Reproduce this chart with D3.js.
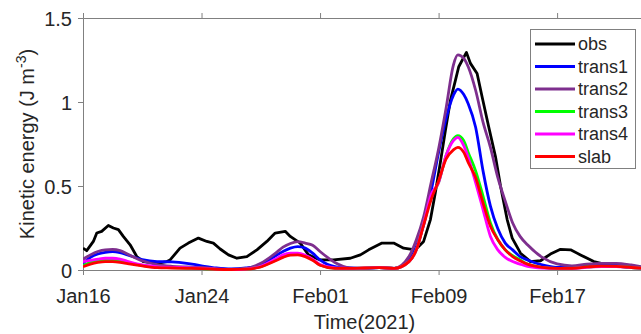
<!DOCTYPE html>
<html>
<head>
<meta charset="utf-8">
<script src="https://cdn.jsdelivr.net/npm/d3@7"></script>
<style>
  body { margin: 0; background: #fff; }
  svg { display: block; font-family: "Liberation Sans", Arial, sans-serif; }
</style>
</head>
<body>
<div id="chart"></div>
<script>
// day offsets from 2021-01-16
const obsDays = [0, 0.25, 0.7, 0.93, 1.26, 1.71, 2.05, 2.39, 2.72, 3.18, 3.63, 4.07, 4.98, 5.66, 5.88,
  6.55, 7.11, 7.79, 8.36, 8.8, 9.26, 9.82, 10.39, 11.06, 11.74, 12.41, 12.97, 13.65, 13.99, 14.66,
  15.22, 16.01, 16.91, 18.04, 18.72, 19.28, 20.18, 20.97, 21.64, 22.43, 22.99, 23.45, 23.78, 24.12,
  24.46, 24.8, 25.14, 25.36, 25.88, 26.15, 26.6, 26.94, 27.39, 27.84, 28.18, 28.63, 28.97, 29.53,
  30.2, 30.88, 31.55, 32.23, 32.91, 33.58, 34.48, 35.39, 36.74, 38];
const obs = [0.13, 0.115, 0.17, 0.22, 0.23, 0.265, 0.25, 0.24, 0.2, 0.15, 0.08, 0.05, 0.04, 0.05, 0.06,
  0.13, 0.16, 0.19, 0.17, 0.16, 0.125, 0.09, 0.07, 0.08, 0.12, 0.17, 0.22, 0.23, 0.2, 0.16,
  0.09, 0.06, 0.06, 0.07, 0.09, 0.12, 0.16, 0.16, 0.13, 0.12, 0.17, 0.3, 0.46, 0.64,
  0.83, 1.01, 1.13, 1.21, 1.295, 1.23, 1.17, 1.03, 0.85, 0.675, 0.5, 0.3, 0.19, 0.1,
  0.05, 0.055, 0.095, 0.123, 0.12, 0.09, 0.05, 0.03, 0.016, 0.01];

const modelDays = [0, 0.5, 1, 1.5, 2, 2.5, 3, 4, 5, 6, 7, 8, 9, 10, 11, 12, 13, 13.5, 14, 14.5, 15, 15.5,
  16, 17, 18, 19, 20, 21, 22, 22.5, 23, 23.5, 24, 24.5, 25, 25.3, 25.7, 26, 26.5, 27, 27.5, 28, 28.5,
  29, 29.5, 30, 31, 32, 33, 34, 35, 36, 37, 38];
const trans1 = [0.04, 0.075, 0.095, 0.105, 0.109, 0.103, 0.09, 0.062, 0.05, 0.048, 0.04, 0.025, 0.012, 0.006,
  0.012, 0.03, 0.085, 0.11, 0.13, 0.139, 0.13, 0.1, 0.06, 0.02, 0.012, 0.01, 0.014, 0.01, 0.06, 0.14,
  0.27, 0.47, 0.7, 0.9, 1.04, 1.077, 1.045, 0.99, 0.85, 0.59, 0.38, 0.245, 0.16, 0.12, 0.08, 0.06,
  0.03, 0.016, 0.018, 0.027, 0.03, 0.03, 0.022, 0.015];
const trans2 = [0.064, 0.09, 0.11, 0.12, 0.122, 0.115, 0.095, 0.055, 0.032, 0.022, 0.018, 0.015, 0.008, 0.004,
  0.008, 0.04, 0.1, 0.136, 0.158, 0.169, 0.16, 0.147, 0.11, 0.045, 0.013, 0.01, 0.016, 0.01, 0.08, 0.18,
  0.32, 0.52, 0.72, 0.96, 1.22, 1.28, 1.26, 1.21, 1.07, 0.88, 0.73, 0.55, 0.41, 0.28, 0.2, 0.15,
  0.075, 0.036, 0.025, 0.035, 0.04, 0.04, 0.03, 0.014];
const trans3 = [0.025, 0.045, 0.055, 0.06, 0.06, 0.055, 0.045, 0.028, 0.018, 0.015, 0.012, 0.008, 0.004, 0.003,
  0.006, 0.02, 0.06, 0.08, 0.093, 0.095, 0.085, 0.062, 0.03, 0.011, 0.01, 0.012, 0.014, 0.01, 0.05, 0.12,
  0.28, 0.44, 0.52, 0.68, 0.78, 0.8, 0.77, 0.7, 0.59, 0.44, 0.28, 0.18, 0.12, 0.085, 0.06, 0.035,
  0.016, 0.01, 0.01, 0.018, 0.022, 0.022, 0.015, 0.01];
const trans4 = [0.05, 0.058, 0.065, 0.07, 0.07, 0.065, 0.052, 0.03, 0.02, 0.016, 0.014, 0.01, 0.005, 0.003,
  0.006, 0.022, 0.065, 0.09, 0.1, 0.1, 0.088, 0.065, 0.032, 0.012, 0.01, 0.012, 0.014, 0.01, 0.05, 0.12,
  0.28, 0.45, 0.52, 0.68, 0.77, 0.79, 0.74, 0.67, 0.52, 0.36, 0.2, 0.12, 0.075, 0.05, 0.035, 0.022,
  0.012, 0.01, 0.01, 0.016, 0.02, 0.02, 0.014, 0.01];
const slab = [0.02, 0.035, 0.045, 0.05, 0.05, 0.046, 0.038, 0.024, 0.014, 0.012, 0.01, 0.008, 0.004, 0.003,
  0.005, 0.018, 0.055, 0.075, 0.088, 0.09, 0.08, 0.058, 0.028, 0.01, 0.01, 0.012, 0.014, 0.01, 0.05, 0.12,
  0.27, 0.42, 0.53, 0.66, 0.715, 0.73, 0.7, 0.64, 0.55, 0.4, 0.26, 0.18, 0.12, 0.08, 0.055, 0.035,
  0.016, 0.01, 0.01, 0.018, 0.023, 0.022, 0.015, 0.01];

const seriesNames = ['obs', 'trans1', 'trans2', 'trans3', 'trans4', 'slab'];
const seriesColors = ['#000000', '#0000ff', '#7e2f8e', '#00ff00', '#ff00ff', '#ff0000'];
const xTickDays = [0, 8, 16, 24, 32];
const yTicks = [0, 0.5, 1, 1.5];

const width = 641, height = 334;
const margin = { top: 18, right: -5, bottom: 64, left: 83 };
const start = new Date(Date.UTC(2021, 0, 16));
const toDate = (d) => new Date(start.getTime() + d * 86400000);

const svg = d3.select('#chart').append('svg')
  .attr('width', width).attr('height', height);

const x = d3.scaleUtc()
  .domain([toDate(0), toDate(38)])
  .range([margin.left, width - margin.right]);
const y = d3.scaleLinear()
  .domain([0, 1.5])
  .range([height - margin.bottom, margin.top]);

const axisColor = '#808080';
const textColor = '#262626';

const xAxis = svg.append('g')
  .attr('transform', `translate(0,${y(0)})`)
  .call(d3.axisBottom(x).tickValues(xTickDays.map(toDate)).tickSize(5).tickPadding(14)
    .tickFormat(d3.utcFormat('%b%d')));
const xTop = svg.append('g')
  .attr('transform', `translate(0,${y(1.5)})`)
  .call(d3.axisTop(x).tickValues(xTickDays.map(toDate)).tickSize(5).tickFormat(''));
const yAxis = svg.append('g')
  .attr('transform', `translate(${x.range()[0]},0)`)
  .call(d3.axisLeft(y).tickValues(yTicks).tickSize(5).tickPadding(6)
    .tickFormat(d3.format('')));

[xAxis, xTop, yAxis].forEach((g) => {
  g.select('.domain').attr('stroke', axisColor);
  g.selectAll('.tick line').attr('stroke', axisColor);
  g.selectAll('.tick text').attr('fill', textColor).style('font-size', '20px')
    .style('font-family', '"Liberation Sans", Arial, sans-serif');
});
yAxis.selectAll('.tick text').attr('dy', '0.36em');

// lines
svg.append('clipPath').attr('id', 'clip').append('rect')
  .attr('x', x.range()[0]).attr('y', 0)
  .attr('width', x.range()[1] - x.range()[0]).attr('height', y(0) + 2);

const plot = svg.append('g').attr('clip-path', 'url(#clip)');

const series = [
  { days: obsDays, vals: obs, curve: d3.curveLinear },
  { days: modelDays, vals: trans1, curve: d3.curveMonotoneX },
  { days: modelDays, vals: trans2, curve: d3.curveMonotoneX },
  { days: modelDays, vals: trans3, curve: d3.curveMonotoneX },
  { days: modelDays, vals: trans4, curve: d3.curveMonotoneX },
  { days: modelDays, vals: slab, curve: d3.curveMonotoneX },
];

series.forEach((s, i) => {
  const line = d3.line()
    .x((d) => x(toDate(d[0])))
    .y((d) => y(d[1]))
    .curve(s.curve);
  plot.append('path')
    .datum(s.days.map((d, j) => [d, s.vals[j]]))
    .attr('fill', 'none')
    .attr('stroke', seriesColors[i])
    .attr('stroke-width', 2.8)
    .attr('stroke-linejoin', 'round')
    .attr('d', line);
});

// legend
const legend = svg.append('g').attr('transform', 'translate(530,29)');
legend.append('rect')
  .attr('x', 0.5).attr('y', 0.5).attr('width', 105).attr('height', 139)
  .attr('fill', '#fff').attr('stroke', axisColor);

seriesNames.forEach((name, i) => {
  const ry = 15 + i * 22.5;
  legend.append('line')
    .attr('x1', 5).attr('x2', 45).attr('y1', ry).attr('y2', ry)
    .attr('stroke', seriesColors[i]).attr('stroke-width', 2.8);
  legend.append('text')
    .attr('x', 48).attr('y', ry).attr('dy', '0.35em')
    .attr('fill', textColor).style('font-size', '18px')
    .text(name);
});

// axis labels
svg.append('text')
  .attr('x', (x.range()[0] + x.range()[1]) / 2).attr('y', 329)
  .attr('text-anchor', 'middle').attr('fill', textColor)
  .style('font-size', '20px')
  .text('Time(2021)');

const yl = svg.append('text')
  .attr('transform', `translate(34,${(y(0) + y(1.5)) / 2}) rotate(-90)`)
  .attr('text-anchor', 'middle').attr('fill', textColor)
  .style('font-size', '20px');
yl.append('tspan').text('Kinetic energy (J m');
yl.append('tspan').attr('dy', '-8').style('font-size', '14px').text('-3');
yl.append('tspan').attr('dy', '8').text(')');
</script>
</body>
</html>
